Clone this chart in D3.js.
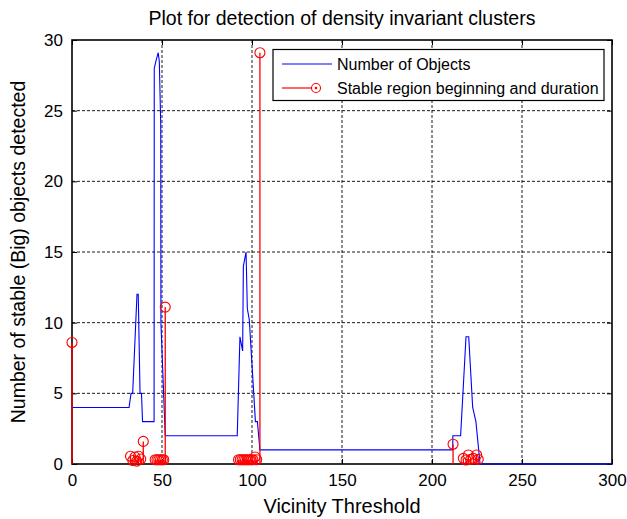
<!DOCTYPE html>
<html>
<head>
<meta charset="utf-8">
<script src="https://cdn.jsdelivr.net/npm/d3@7"></script>
<style>
  body { margin: 0; background: #fff; }
  text { font-family: "Liberation Sans", Arial, sans-serif; fill: #000; }
</style>
</head>
<body>
<div id="chart"></div>
<script>
// blue curve: number of objects per vicinity threshold
var objX = [0, 31.7, 32.8, 33.7, 36.1, 36.8, 37.8, 38.6, 39.2, 44.8, 45.6, 45.7, 46.8, 47.9, 48.5, 49.3, 49.4, 51.8,
            91.8, 93.3, 94.8, 95.2, 96.7, 97.4, 98.5, 101.9, 103, 104.4,
            211.5, 211.6, 215.9, 218.9, 220.4, 222.6, 224.4, 226.7, 300];
var objY = [4, 4, 5, 5, 12, 12, 5, 5, 3, 3, 3, 28, 28.6, 29.1, 28.5, 24, 10, 2,
            2, 9, 8, 14, 15, 11, 10.2, 3, 3, 1,
            1, 2, 2, 9, 9, 4, 3, 0, 0];

// red stems: stable region beginning and duration
var stemX = [0, 32.5, 33.8, 35, 36, 37, 38.2, 39.6,
             46.2, 47.2, 48.2, 49.2, 50.2, 51, 51.8,
             92.5, 93.5, 94.5, 95.5, 96.5, 97.5, 98.5, 99.5, 100.5, 101.7, 102.6, 104.4,
             211.7, 217.4, 218.9, 220.2, 221.5, 223, 224.8, 225.7];
var stemY = [8.6, 0.55, 0.25, 0.5, 0.2, 0.55, 0.35, 1.6,
             0.3, 0.3, 0.3, 0.3, 0.3, 0.3, 11.1,
             0.3, 0.3, 0.3, 0.3, 0.3, 0.3, 0.3, 0.3, 0.3, 0.5, 0.3, 29.1,
             1.4, 0.4, 0.28, 0.64, 0.33, 0.4, 0.64, 0.33];

var xTicks = [0, 50, 100, 150, 200, 250, 300];
var yTicks = [0, 5, 10, 15, 20, 25, 30];
var legendLabels = ["Number of Objects", "Stable region beginning and duration"];

var width = 627, height = 519;
var pl = 72, pr = 612, pt = 40, pb = 464;

var svg = d3.select("#chart").append("svg")
  .attr("width", width)
  .attr("height", height);

var x = d3.scaleLinear().domain([0, 300]).range([pl, pr]);
var y = d3.scaleLinear().domain([0, 30]).range([pb, pt]);

// grid lines (dashed), skipping the box edges
var grid = svg.append("g")
  .attr("stroke", "#000")
  .attr("stroke-width", 0.9)
  .attr("stroke-dasharray", "3,2");
grid.selectAll(".gx")
  .data(xTicks.slice(1, -1))
  .enter().append("line")
    .attr("x1", function(d){ return x(d); })
    .attr("x2", function(d){ return x(d); })
    .attr("y1", pt).attr("y2", pb);
grid.selectAll(".gy")
  .data(yTicks.slice(1, -1))
  .enter().append("line")
    .attr("y1", function(d){ return y(d); })
    .attr("y2", function(d){ return y(d); })
    .attr("x1", pl).attr("x2", pr);

// axes box with inward ticks (matlab style), drawn under the data
var xAxis = d3.axisBottom(x).tickValues(xTicks).tickSizeInner(-5).tickSizeOuter(0).tickPadding(10);
var yAxis = d3.axisLeft(y).tickValues(yTicks).tickSizeInner(-5).tickSizeOuter(0).tickPadding(9);

svg.append("g").attr("transform", "translate(0," + pb + ")").call(xAxis);
svg.append("g").attr("transform", "translate(" + pl + ",0)").call(yAxis);
svg.append("g").attr("transform", "translate(0," + pt + ")")
  .call(d3.axisTop(x).tickValues(xTicks).tickSizeInner(-5).tickSizeOuter(0).tickFormat(""));
svg.append("g").attr("transform", "translate(" + pr + ",0)")
  .call(d3.axisRight(y).tickValues(yTicks).tickSizeInner(-5).tickSizeOuter(0).tickFormat(""));

svg.selectAll(".domain").remove();
svg.selectAll(".tick line").attr("stroke", "#000");
svg.selectAll(".tick text")
  .style("font-family", "Liberation Sans, Arial, sans-serif")
  .style("font-size", "17px")
  .attr("fill", "#000");

svg.append("rect")
  .attr("x", pl).attr("y", pt)
  .attr("width", pr - pl).attr("height", pb - pt)
  .attr("fill", "none")
  .attr("stroke", "#000")
  .attr("stroke-width", 1.6);

// blue line
var line = d3.line()
  .x(function(d, i){ return x(objX[i]); })
  .y(function(d, i){ return y(objY[i]); });
svg.append("path")
  .datum(objX)
  .attr("d", line)
  .attr("fill", "none")
  .attr("stroke", "#0000ff")
  .attr("stroke-width", 1.1);

// red stems
var stems = svg.append("g");
stems.selectAll("line")
  .data(stemX)
  .enter().append("line")
    .attr("x1", function(d){ return x(d); })
    .attr("x2", function(d){ return x(d); })
    .attr("y1", y(0))
    .attr("y2", function(d, i){ return y(stemY[i]); })
    .attr("stroke", "#ff0000")
    .attr("stroke-width", 1.3);
stems.selectAll("circle")
  .data(stemX)
  .enter().append("circle")
    .attr("cx", function(d){ return x(d); })
    .attr("cy", function(d, i){ return y(stemY[i]); })
    .attr("r", 5)
    .attr("fill", "none")
    .attr("stroke", "#ff0000")
    .attr("stroke-width", 1.1);

// titles
svg.append("text")
  .attr("x", (pl + pr) / 2).attr("y", 25)
  .attr("text-anchor", "middle")
  .style("font-size", "19.5px")
  .text("Plot for detection of density invariant clusters");
svg.append("text")
  .attr("x", (pl + pr) / 2).attr("y", 513)
  .attr("text-anchor", "middle")
  .style("font-size", "20px")
  .text("Vicinity Threshold");
svg.append("text")
  .attr("transform", "translate(25," + (pt + pb) / 2 + ") rotate(-90)")
  .attr("text-anchor", "middle")
  .style("font-size", "19.5px")
  .text("Number of stable (Big) objects detected");

// legend
var lg = svg.append("g");
lg.append("rect")
  .attr("x", 273).attr("y", 49.5)
  .attr("width", 331).attr("height", 51)
  .attr("fill", "#fff")
  .attr("stroke", "#000")
  .attr("stroke-width", 1.2);
var rows = [64, 88];
lg.append("line")
  .attr("x1", 282).attr("x2", 332).attr("y1", rows[0]).attr("y2", rows[0])
  .attr("stroke", "#0000ff").attr("stroke-width", 1.2);
lg.append("line")
  .attr("x1", 282).attr("x2", 312).attr("y1", rows[1]).attr("y2", rows[1])
  .attr("stroke", "#ff0000").attr("stroke-width", 1.2);
lg.append("circle")
  .attr("cx", 316).attr("cy", rows[1]).attr("r", 4.5)
  .attr("fill", "none").attr("stroke", "#ff0000").attr("stroke-width", 1.1);
lg.append("circle")
  .attr("cx", 316).attr("cy", rows[1]).attr("r", 1.3)
  .attr("fill", "#ff0000");
lg.selectAll("text.lab")
  .data(legendLabels)
  .enter().append("text")
    .attr("x", 337)
    .attr("y", function(d, i){ return rows[i] + 5.5; })
    .style("font-size", "16px")
    .text(function(d){ return d; });
</script>
</body>
</html>
